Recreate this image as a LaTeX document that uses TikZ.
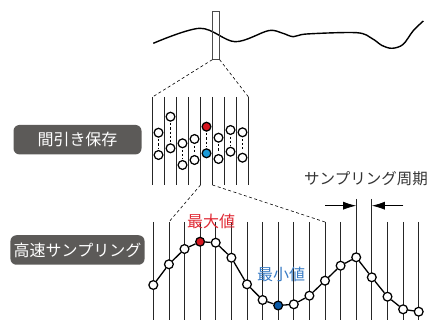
\documentclass[tikz,border=0pt]{standalone}
\usepackage{fontspec}
\setmainfont{Noto Sans CJK JP}
\usetikzlibrary{arrows.meta,positioning}

\definecolor{boxgray}{RGB}{92,90,88}
\definecolor{maxred}{RGB}{215,22,31}
\definecolor{mincyan}{RGB}{26,154,216}
\definecolor{minblue}{RGB}{10,90,168}
\definecolor{txtred}{RGB}{224,42,53}
\definecolor{txtblue}{RGB}{58,124,196}

\begin{document}
\begin{tikzpicture}[x=1pt, y=-1pt, semithick, >={Latex[length=13pt,width=8pt]}]

    \tikzstyle{smp} = [circle, draw=black, line width=1.25pt, fill=white, minimum size=8.8pt, inner sep=0pt]
    \tikzstyle{lbl} = [rectangle, rounded corners=6pt, fill=boxgray, text=white, minimum width=128pt, minimum height=29.5pt, font=\fontsize{16}{16}\selectfont]
    \tikzstyle{tick} = [draw=black!85, line width=0.75pt]
    \tikzstyle{zoomline} = [draw=black, line width=0.6pt, dash pattern=on 3pt off 2.5pt]
    \tikzstyle{pair} = [draw=black, line width=1.4pt, dash pattern=on 2.2pt off 2pt, shorten <=1.5pt, shorten >=1.5pt]

    \useasboundingbox (0,0) rectangle (431,320);

    % signal overview
    \draw[line width=1.4pt] plot[smooth, tension=0.55] coordinates {(153.3,43.3) (200,28.3) (235,41.7) (268.3,30.7) (282,33) (293.3,36.7) (306.7,34) (356.7,32.7) (372,38.5) (382,45.5) (392,48.3) (403,44.5) (413,31) (423.3,21)};
    \node (win) [rectangle, draw=black!70, line width=0.6pt, minimum width=6.6pt, minimum height=48.3pt, inner sep=0pt] at (216,35.2) {};

    % decimated part
    \foreach \i in {0,...,8}
        \draw[tick] (152.5+12*\i,97) -- (152.5+12*\i,185);
    \coordinate (mtl) at (152.5,97);
    \coordinate (mtr) at (248.5,97);
    \coordinate (mbl) at (200.5,185);
    \coordinate (mbr) at (212.5,185);

    \path[zoomline] (win.south west) edge (mtl);
    \path[zoomline] (win.south east) edge (mtr);

    \node (m1a) [smp] at (158.5,132.7) {};
    \node (m1b) [smp] at (158.5,155)   {};
    \node (m2a) [smp] at (170.5,116.7) {};
    \node (m2b) [smp] at (170.5,148.3) {};
    \node (m3a) [smp] at (182.5,143.3) {};
    \node (m3b) [smp] at (182.5,165)   {};
    \node (m4a) [smp] at (194.5,139)   {};
    \node (m4b) [smp] at (194.5,160)   {};
    \node (m5a) [smp, fill=maxred]  at (206.5,126.7) {};
    \node (m5b) [smp, fill=mincyan] at (206.5,153.3) {};
    \node (m6a) [smp] at (218.5,137.7) {};
    \node (m6b) [smp] at (218.5,159)   {};
    \node (m7a) [smp] at (230.5,130)   {};
    \node (m7b) [smp] at (230.5,151.7) {};
    \node (m8a) [smp] at (242.5,132.3) {};
    \node (m8b) [smp] at (242.5,157.7) {};

    \path[pair] (m1a) edge (m1b)  (m2a) edge (m2b)  (m3a) edge (m3b)  (m4a) edge (m4b)
                (m5a) edge (m5b)  (m6a) edge (m6b)  (m7a) edge (m7b)  (m8a) edge (m8b);

    \node (keep) [lbl] at (77.5,139.7) {間引き保存};

    % high-speed sampling
    \foreach \i in {0,...,17}
        \draw[tick] (153.3+15.61*\i,222) -- (153.3+15.61*\i,320);
    \draw[tick] (356.2,199) -- (356.2,222);
    \draw[tick] (371.8,199) -- (371.8,222);

    \coordinate (bl) at (168.9,222);
    \coordinate (br) at (325,222);
    \path[zoomline] (mbl) edge (bl);
    \path[zoomline] (mbr) edge (br);

    \node (b1)  [smp] at (153.3,285)   {};
    \node (b2)  [smp] at (168.9,264.3) {};
    \node (b3)  [smp] at (184.5,249)   {};
    \node (b4)  [smp, fill=maxred] at (200.1,241.7) {};
    \node (b5)  [smp] at (215.7,242.7) {};
    \node (b6)  [smp] at (231.4,257.7) {};
    \node (b7)  [smp] at (247,284.3)   {};
    \node (b8)  [smp] at (262.6,300)   {};
    \node (b9)  [smp, fill=minblue] at (278.2,305.5) {};
    \node (b10) [smp] at (293.8,304.3) {};
    \node (b11) [smp] at (309.4,295.7) {};
    \node (b12) [smp] at (325,280.7)   {};
    \node (b13) [smp] at (340.6,265.7) {};
    \node (b14) [smp] at (356.2,257.3) {};
    \node (b15) [smp] at (371.8,277.3) {};
    \node (b16) [smp] at (387.5,296.7) {};
    \node (b17) [smp] at (403.1,309.3) {};
    \node (b18) [smp] at (418.7,311.7) {};

    \draw[line width=1.3pt] (b1) -- (b2) -- (b3) -- (b4) -- (b5) -- (b6) -- (b7) -- (b8) -- (b9)
        -- (b10) -- (b11) -- (b12) -- (b13) -- (b14) -- (b15) -- (b16) -- (b17) -- (b18);

    \node (fast) [lbl] at (77.5,250) {高速サンプリング};

    \node (maxv) [text=txtred, font=\fontsize{16}{16}\selectfont]  at (211,221.5) {最大値};
    \node (minv) [text=txtblue, font=\fontsize{16}{16}\selectfont] at (281,274)   {最小値};

    \node (period) [text=black!80, font=\fontsize{15.5}{15.5}\selectfont] at (366,179) {サンプリング周期};
    \coordinate (pl) at (325,205.7);
    \coordinate (pr) at (403.3,205.7);
    \draw[->, line width=0.8pt] (pl) -- (356.2,205.7);
    \draw[->, line width=0.8pt] (pr) -- (371.8,205.7);
\end{tikzpicture}
\end{document}
